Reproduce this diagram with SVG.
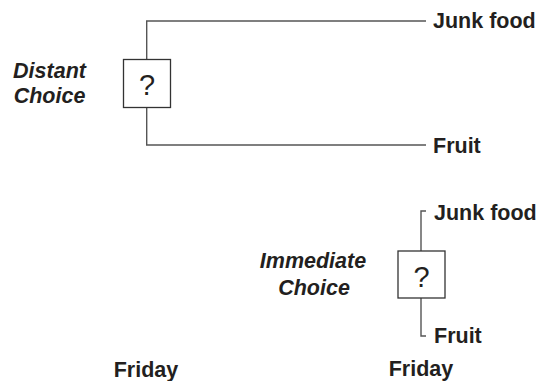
<svg xmlns="http://www.w3.org/2000/svg" width="537" height="381" viewBox="0 0 537 381">
<style>
.b{font-family:"Liberation Sans",Arial,sans-serif;font-weight:bold;font-size:21.5px;fill:#231f20}
.i{font-family:"Liberation Sans",Arial,sans-serif;font-weight:bold;font-style:italic;font-size:21.5px;fill:#231f20;text-anchor:middle}
.q{font-family:"Liberation Sans",Arial,sans-serif;font-size:29px;fill:#231f20;text-anchor:middle}
.ln{fill:none;stroke:#555;stroke-width:1.4}
.bx{fill:#fff;stroke:#333;stroke-width:1.3}
</style>
<rect width="537" height="381" fill="#fff"/>
<g id="connectors">
<path class="ln" d="M426,21 H146.7 V59 M146.7,107 V145 H426"/>
<path class="ln" d="M426,211 H421 V251 M421,298 V336 H426"/>
</g>
<g id="distant-choice">
<rect class="bx" x="123.5" y="59.5" width="47" height="48"/>
<text class="q" x="147" y="95">?</text>
<text class="i" x="49.5" y="78">Distant</text>
<text class="i" x="49.5" y="103">Choice</text>
</g>
<g id="distant-junk"><text class="b" x="433" y="28">Junk food</text></g>
<g id="distant-fruit"><text class="b" x="433" y="153">Fruit</text></g>
<g id="immediate-choice">
<rect class="bx" x="398" y="251" width="47" height="47"/>
<text class="q" x="421.5" y="287">?</text>
<text class="i" x="313" y="268">Immediate</text>
<text class="i" x="314" y="295">Choice</text>
</g>
<g id="immediate-junk"><text class="b" x="434" y="220">Junk food</text></g>
<g id="immediate-fruit"><text class="b" x="434" y="343">Fruit</text></g>
<g id="friday-left"><text class="b" x="146" y="377" text-anchor="middle">Friday</text></g>
<g id="friday-right"><text class="b" x="421" y="376" text-anchor="middle">Friday</text></g>
</svg>
